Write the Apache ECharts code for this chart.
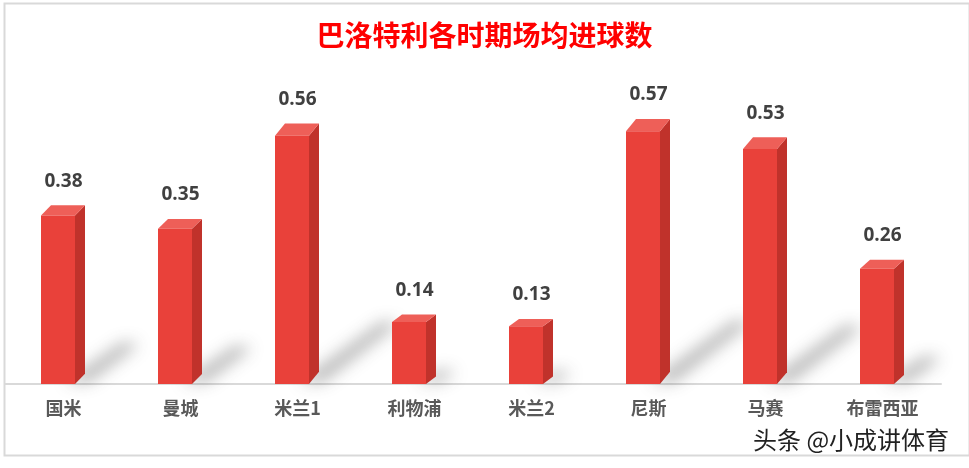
<!DOCTYPE html>
<html><head><meta charset="utf-8">
<script src="https://cdn.jsdelivr.net/npm/echarts@6/dist/echarts.min.js"></script>
<style>html,body{margin:0;padding:0;background:#fff}#c{width:969px;height:468px}</style>
</head><body><div id="c"></div>
<script>
const categories = ['国米','曼城','米兰1','利物浦','米兰2','尼斯','马赛','布雷西亚'];
const goalsPerGame = [0.38,0.35,0.56,0.14,0.13,0.57,0.53,0.26];
const titleText = '巴洛特利各时期场均进球数';
const watermark = '头条 @小成讲体育';

const chart = echarts.init(document.getElementById('c'), null, {renderer:'canvas'});

function renderBar(params, api){
  const i = api.value(0), v = api.value(1);
  const top = api.coord([i, v]);
  const base = api.coord([i, 0]);
  const cx = top[0];
  const h = base[1] - top[1];
  const x0 = cx - 22.5, x1 = cx + 11.5;
  const dx = 10, dy = 6 + 0.025*h;
  const y0 = top[1], yb = base[1];
  const sx = 0.32*h, sy = -0.26*h;
  const off = 3000;
  const children = [
    { type:'polygon', silent:true,
      shape:{points:[[x1-10-off,yb-2],[x1+14-off,yb-2],[x1+10+sx-off,yb+sy+4],[x1-6+sx-off,yb+sy+2]]},
      style:{fill:'rgba(0,0,0,1)', shadowBlur:16, shadowColor:'rgba(60,60,60,0.38)', shadowOffsetX:off, shadowOffsetY:0}},
    { type:'polygon', shape:{points:[[x1,y0],[x1+dx,y0-dy],[x1+dx,yb-dy],[x1,yb]]}, style:{fill:'#C0322B'}},
    { type:'polygon', shape:{points:[[x0,y0],[x0+dx,y0-dy],[x1+dx,y0-dy],[x1,y0]]}, style:{fill:'#EE5F58'}},
    { type:'rect', shape:{x:x0, y:y0, width:x1-x0, height:yb-y0}, style:{fill:'#E9413A'}},
    { type:'text', style:{text:v.toFixed(2), x:cx, y:y0-dy-24, align:'center', verticalAlign:'middle',
      font:'bold 19px "Open Sans", "Noto Sans CJK SC", sans-serif', fill:'#404040'}}
  ];
  return {type:'group', children};
}

chart.setOption({
  backgroundColor:'#fff',
  animation:false,
  title:{text:titleText, left:'center', top:16,
    textStyle:{color:'#FF0000', fontSize:28, fontWeight:'bold', fontFamily:'"Noto Sans CJK SC", sans-serif'}},
  grid:{left:5, right:28, top:118, bottom:84},
  xAxis:{type:'category', data:categories,
    axisLine:{lineStyle:{color:'#D9D9D9', width:2}}, axisTick:{show:false},
    axisLabel:{color:'#595959', fontSize:18, fontWeight:'bold', margin:15, fontFamily:'"Noto Sans CJK SC", sans-serif'}},
  yAxis:{type:'value', min:0, max:0.6, show:false, splitLine:{show:false}},
  graphic:[
    {type:'rect', left:2, top:1, shape:{width:965, height:452}, style:{fill:'none', stroke:'#D9D9D9', lineWidth:2}, z:-1},
    {type:'text', left:753, top:428, style:{text:watermark, fill:'#222', font:'24px "Noto Sans CJK SC", sans-serif',
      textShadowColor:'rgba(255,255,255,0.9)', textShadowOffsetX:1, textShadowOffsetY:1, textShadowBlur:1}, z:10}
  ],
  series:[{type:'custom', renderItem:renderBar, data:goalsPerGame.map((v,i)=>[i,v]), encode:{x:0,y:1}}]
});
</script></body></html>
